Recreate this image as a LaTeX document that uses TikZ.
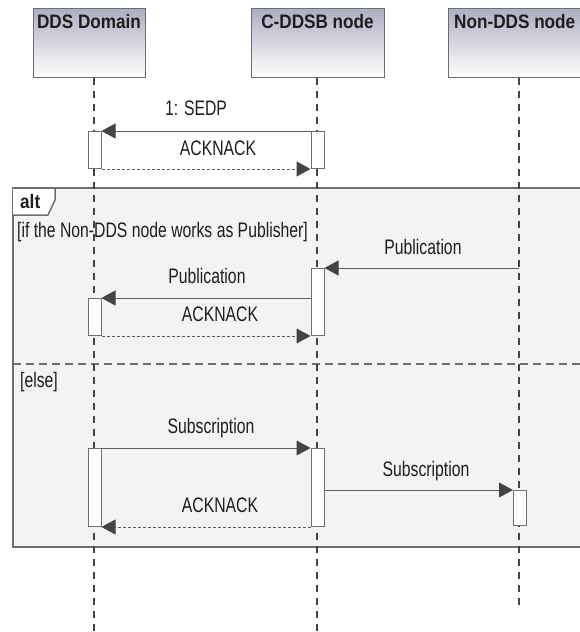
\documentclass[tikz,border=0pt]{standalone}
\usepackage{fontspec}
\setmainfont{Liberation Sans}
\newfontfamily\msgfont[FakeStretch=0.75]{Liberation Sans}
\newfontfamily\hdrfont[FakeStretch=0.88]{Liberation Sans}
\usetikzlibrary{arrows.meta}
\definecolor{frameline}{HTML}{6E6E6E}
\definecolor{framefill}{HTML}{F3F3F3}
\definecolor{lifecol}{HTML}{444444}
\definecolor{msgcol}{HTML}{5E5E5E}
\definecolor{headcol}{HTML}{444444}
\definecolor{headtop}{HTML}{ADADC3}
\definecolor{txtcol}{HTML}{1E1E1E}
\begin{document}
\begin{tikzpicture}[x=1pt,y=-1pt,
  hdr/.style={draw=frameline, line width=1pt, top color=headtop, bottom color=white, inner sep=0pt},
  hdrtext/.style={font=\hdrfont\bfseries\fontsize{19.5}{22}\selectfont, text=txtcol, inner sep=0pt},
  lbl/.style={font=\msgfont\fontsize{21}{25}\selectfont, text=txtcol, inner sep=0pt},
  life/.style={draw=lifecol, line width=2.2pt, dash pattern=on 7pt off 6pt},
  act/.style={draw=frameline, fill=white, line width=1pt, minimum width=13pt, minimum height=#1, anchor=north, inner sep=0pt},
  msg/.style={draw=msgcol, line width=1pt, -{Triangle[length=14pt,width=15pt,fill=headcol,color=headcol]}},
  ret/.style={draw=msgcol, line width=1pt, dash pattern=on 3pt off 2pt, -{Triangle[length=14pt,width=15pt,fill=headcol,color=headcol]}},
  frame/.style={draw=frameline, line width=1.5pt},
  elseline/.style={draw=frameline, line width=1.8pt, dash pattern=on 8pt off 5pt}
]
\useasboundingbox (0,0) rectangle (580,632);
\clip (0,0) rectangle (580,632);
\fill[white] (0,0) rectangle (580,632);

% header boxes
\node[hdr, minimum width=112pt, minimum height=69pt] (dds) at (89,42.5) {};
\node[hdr, minimum width=133pt, minimum height=69pt] (cddsb) at (317.5,42.5) {};
\node[hdr, minimum width=142pt, minimum height=69pt] (nondds) at (519,42.5) {};
\node[hdrtext, anchor=base] (ddst) at (89,28.5) {DDS Domain};
\node[hdrtext, anchor=base] (cddsbt) at (317.5,28.5) {C-DDSB node};
\node[hdrtext, anchor=base west] (nonddst) at (454,28.5) {Non-DDS node};

% alt frame
\draw[frame, fill=framefill] (13,188) rectangle (600,547);
\draw[frame, fill=white] (13,188) -- (55,188) -- (55,200) -- (48,215) -- (13,215);
\node[hdrtext, anchor=base west] (altt) at (20,208.5) {alt};
\node[lbl, anchor=base west] (cond1) at (17,237) {[if the Non-DDS node works as Publisher]};
\draw[elseline] (13,364) -- (600,364);
\node[lbl, anchor=base west] (cond2) at (20,387) {[else]};

% lifelines
\coordinate (ddsend) at (94,632);
\coordinate (cddsbend) at (317,632);
\coordinate (nonddsend) at (519,605);
\draw[life] (dds.south -| ddsend) -- (ddsend);
\draw[life] (cddsb.south -| cddsbend) -- (cddsbend);
\draw[life] (nondds.south -| nonddsend) -- (nonddsend);

% activations
\node[act=37pt] (aA1) at (94.5,131) {};
\node[act=37pt] (aB1) at (317.5,131) {};
\node[act=67pt] (aB2) at (317.5,268) {};
\node[act=37pt] (aA2) at (94.5,298) {};
\node[act=78pt] (aA3) at (94.5,448) {};
\node[act=78pt] (aB3) at (317.5,448) {};
\node[act=35pt] (aC1) at (520,490) {};

% messages
\draw[msg] (aB1.north west) -- (aA1.north east);
\node[lbl, anchor=base] (m1) at (196,115.5) {1: SEDP};
\draw[ret] (aA1.south east) -- (aB1.south west);
\node[lbl, anchor=base] (m2) at (218,155.5) {ACKNACK};

\coordinate (pubsrc) at (519,268);
\draw[msg] (pubsrc) -- (aB2.north east);
\node[lbl, anchor=base] (m3) at (423,254.5) {Publication};
\draw[msg] (aB2.west |- aA2.north) -- (aA2.north east);
\node[lbl, anchor=base] (m4) at (207,283.5) {Publication};
\draw[ret] (aA2.south east) -- (aB2.south west);
\node[lbl, anchor=base] (m5) at (220,321.5) {ACKNACK};

\draw[msg] (aA3.north east) -- (aB3.north west);
\node[lbl, anchor=base] (m6) at (211,433.5) {Subscription};
\draw[msg] (aB3.east |- aC1.north) -- (aC1.north west);
\node[lbl, anchor=base] (m7) at (426,476.5) {Subscription};
\draw[ret] (aB3.south west) -- (aA3.south east);
\node[lbl, anchor=base] (m8) at (220,512.5) {ACKNACK};
\end{tikzpicture}
\end{document}
